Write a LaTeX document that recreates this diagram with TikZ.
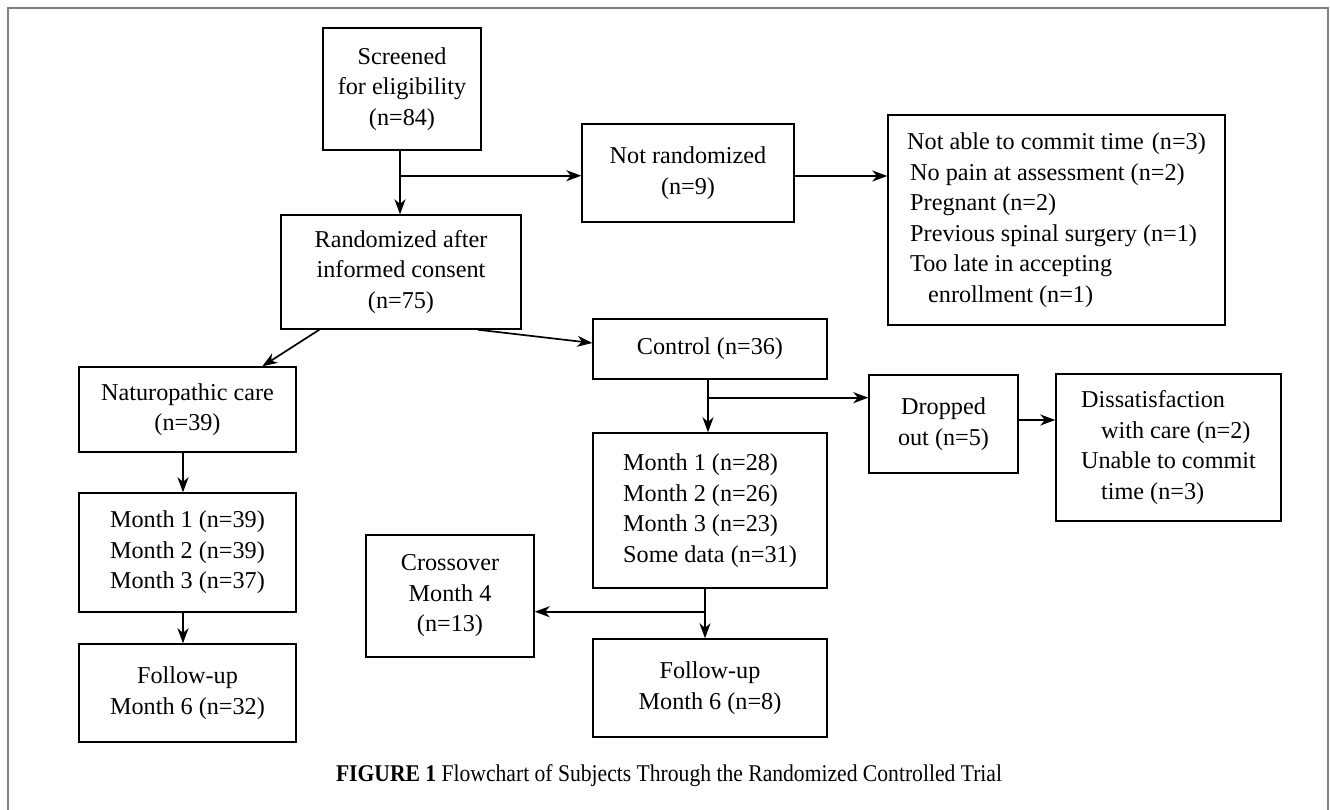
\documentclass[tikz,border=0pt]{standalone}
\usepackage{fontspec}
\setmainfont{Liberation Serif}
\usepackage{graphicx}
\usetikzlibrary{arrows.meta,calc}
\begin{document}
\begin{tikzpicture}[x=1pt,y=-1pt,
  box/.style={draw, line width=1.4pt, inner sep=0pt, align=center,
    font=\fontsize{24.2}{30.5}\selectfont},
  arr/.style={-{Stealth[length=15pt,width=11pt,inset=4.5pt]}, line width=1.7pt},
  frame/.style={draw=black!50, line width=2.2pt}]
\useasboundingbox (0,0) rectangle (1330,809);
\draw[frame] (8,815) -- (8,8) -- (1328,8) -- (1328,815);

\node[box, minimum width=158pt, minimum height=122pt] (scr) at (402,89)
  {Screened\\for eligibility\\(n=84)};
\node[box, minimum width=212pt, minimum height=98pt] (nr) at (688,173)
  {Not randomized\\(n=9)};
\node[box, minimum width=337pt, minimum height=210pt, align=left] (rsn) at (1056.5,220)
  {Not able to commit time\hspace{8pt}(n=3)\\
   \hspace*{3pt}No pain at assessment (n=2)\\
   \hspace*{3pt}Pregnant (n=2)\\
   \hspace*{3pt}Previous spinal surgery (n=1)\\
   \hspace*{3pt}Too late in accepting\\
   \hspace*{21pt}enrollment (n=1)};
\node[box, minimum width=240pt, minimum height=114pt] (rnd) at (401,272)
  {Randomized after\\informed consent\\(n=75)};
\node[box, minimum width=234pt, minimum height=60pt] (ctl) at (710,349)
  {Control (n=36)};
\node[box, minimum width=217pt, minimum height=85pt] (nat) at (187.5,409.5)
  {Naturopathic care\\(n=39)};
\node[box, minimum width=149pt, minimum height=98pt] (drp) at (943.5,424)
  {Dropped\\out (n=5)};
\node[box, minimum width=225pt, minimum height=147pt, align=left] (dis) at (1168.5,447.5)
  {Dissatisfaction\\
   \hspace*{20pt}with care (n=2)\\
   Unable to commit\\
   \hspace*{20pt}time (n=3)};
\node[box, minimum width=234pt, minimum height=155pt, align=left] (cm) at (710,510.5)
  {Month 1 (n=28)\\Month 2 (n=26)\\Month 3 (n=23)\\Some data (n=31)};
\node[box, minimum width=217pt, minimum height=119pt] (nm) at (187.5,552.5)
  {Month 1 (n=39)\\Month 2 (n=39)\\Month 3 (n=37)};
\node[box, minimum width=168pt, minimum height=122pt] (crs) at (450,596)
  {Crossover\\Month 4\\(n=13)};
\node[box, minimum width=217pt, minimum height=98pt] (fl) at (187.5,693)
  {Follow-up\\Month 6 (n=32)};
\node[box, minimum width=234pt, minimum height=98pt] (fr) at (710,688)
  {Follow-up\\Month 6 (n=8)};

\node[anchor=base, inner sep=0pt, font=\fontsize{24}{28}\selectfont] (cap) at (669,781)
  {\resizebox{666pt}{\height}{\textbf{FIGURE 1} Flowchart of Subjects Through the Randomized Controlled Trial}};

% connectors
\coordinate (s1) at ($(scr.south)+(-2,0)$);
\draw[arr] (s1) -- (s1 |- rnd.north);
\coordinate (b1) at ($(scr.south)+(-2,25)$);
\draw[arr] (b1) -- (b1 -| nr.west);
\coordinate (n1) at ($(nr.east)+(0,3)$);
\draw[arr] (n1) -- (n1 -| rsn.west);
\draw[arr] ($(rnd.south west)+(39,0)$) -- ($(nat.north west)+(184,0)$);
\draw[arr] ($(rnd.south east)+(-44,0)$) -- ($(ctl.west)+(0,-6)$);
\coordinate (a1) at ($(nat.south)+(-4.5,0)$);
\draw[arr] (a1) -- (a1 |- nm.north);
\coordinate (a2) at ($(nm.south)+(-4.5,0)$);
\draw[arr] (a2) -- (a2 |- fl.north);
\coordinate (c1) at ($(ctl.south)+(-2,0)$);
\draw[arr] (c1) -- (c1 |- cm.north);
\coordinate (b2) at ($(ctl.south)+(-2,18)$);
\draw[arr] (b2) -- (b2 -| drp.west);
\coordinate (d1) at ($(drp.east)+(0,-4)$);
\draw[arr] (d1) -- (d1 -| dis.west);
\coordinate (c2) at ($(cm.south)+(-5,0)$);
\draw[arr] (c2) -- (c2 |- fr.north);
\coordinate (b3) at ($(cm.south)+(-5,23)$);
\draw[arr] (b3) -- (b3 -| crs.east);
\end{tikzpicture}
\end{document}
